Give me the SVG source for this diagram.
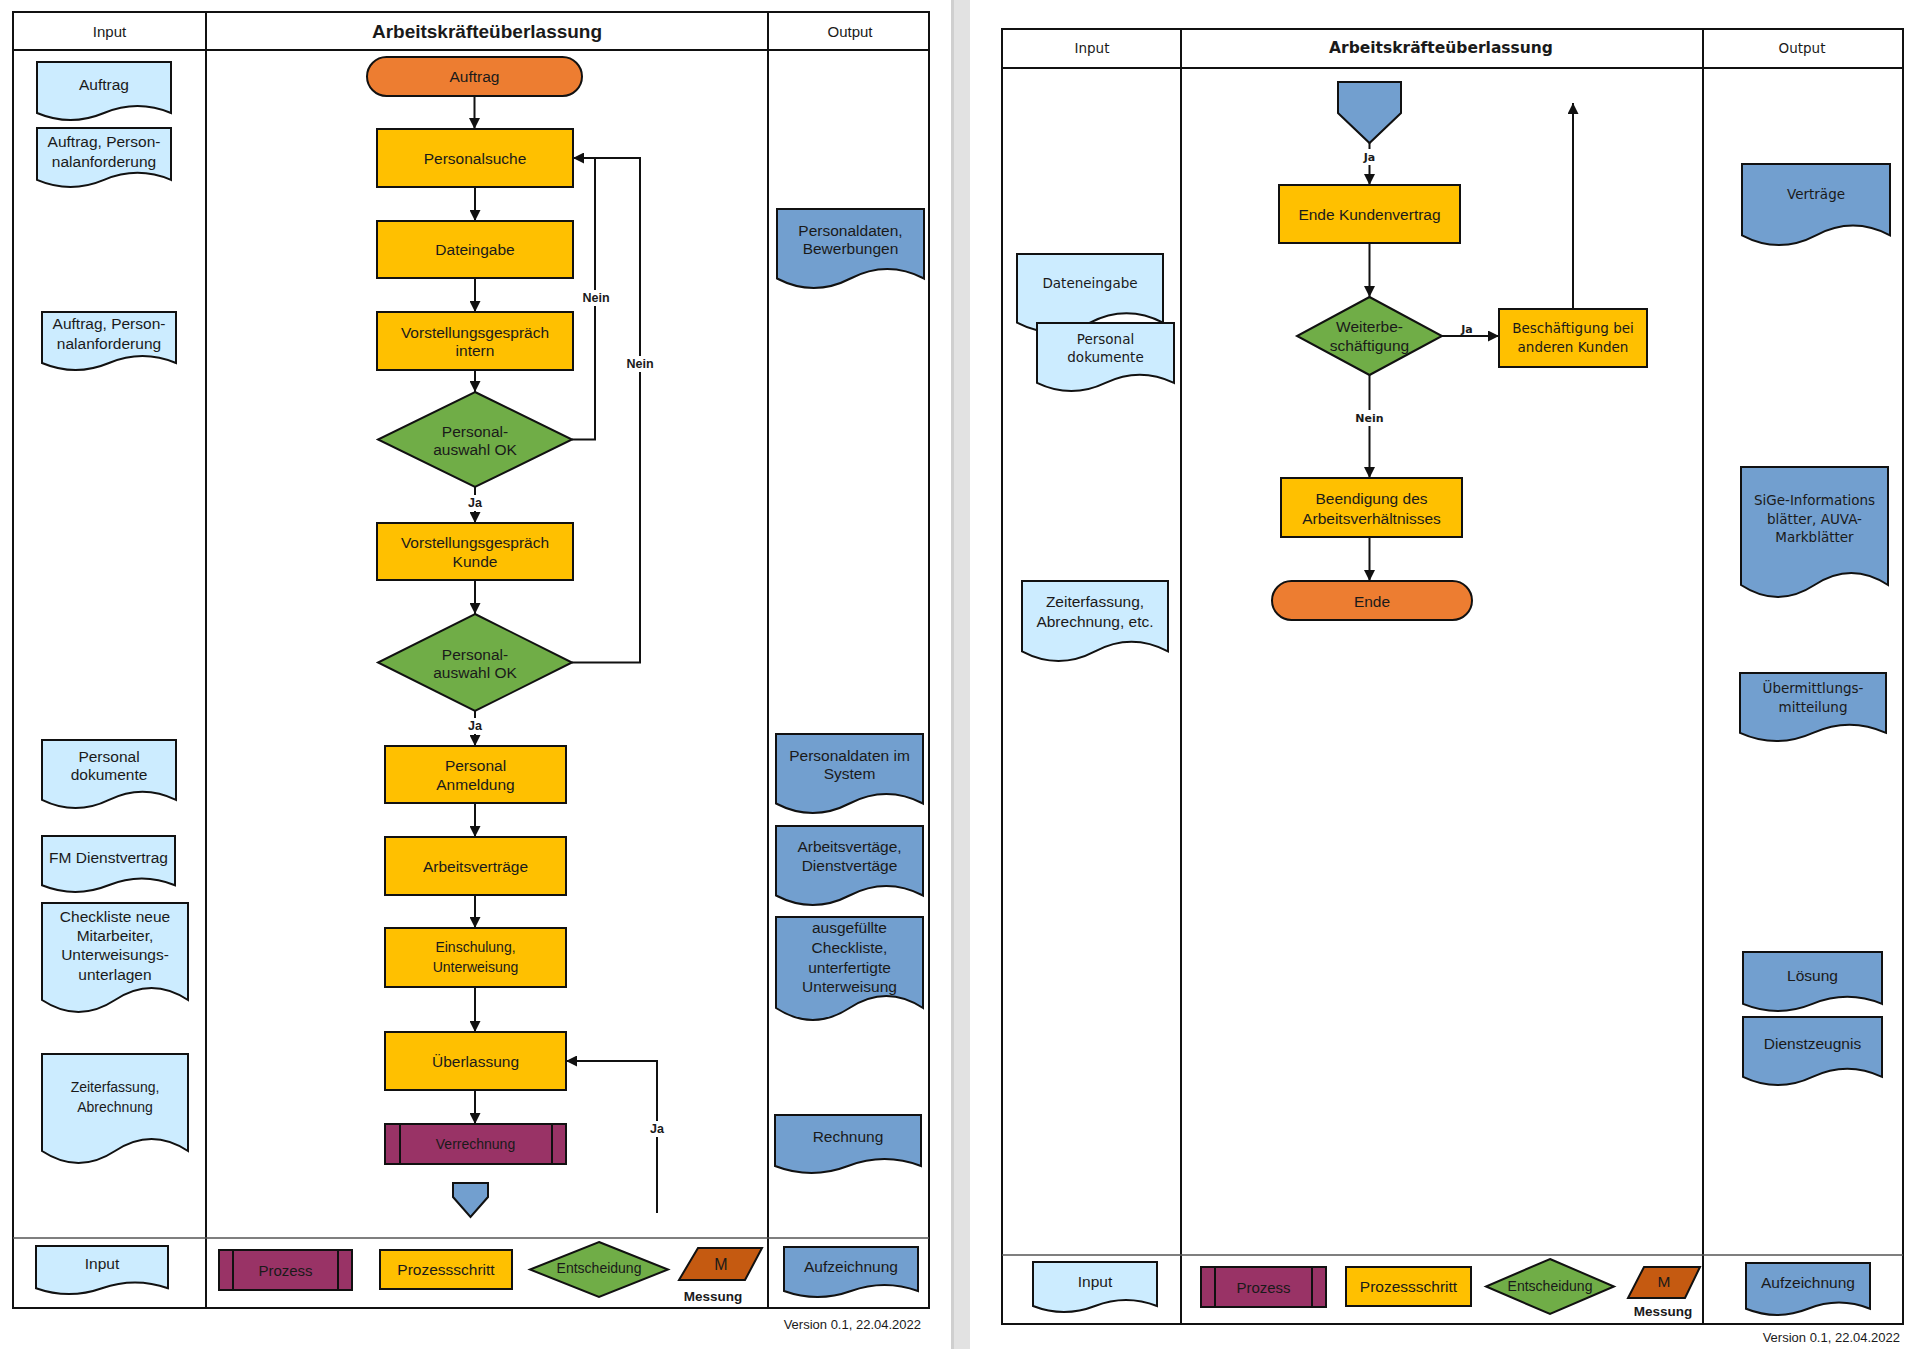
<svg xmlns="http://www.w3.org/2000/svg" width="1920" height="1349" viewBox="0 0 1920 1349">
<defs>
<marker id="ah" viewBox="0 0 11 11" refX="11" refY="5.5" markerWidth="11" markerHeight="11" markerUnits="userSpaceOnUse" orient="auto">
<path d="M0,0 L11,5.5 L0,11 Z" fill="#111"/>
</marker>
<style>
.box{stroke:#111;stroke-width:2}
.step{fill:#FFC000}
.term{fill:#ED7D31}
.dec{fill:#70AD47}
.proc{fill:#993366}
.meas{fill:#C55A11}
.din{fill:#CCECFF}
.dout{fill:#729FCF}
.frame{fill:none;stroke:#111;stroke-width:2}
.sep{stroke:#555;stroke-width:1.5}
.ln{fill:none;stroke:#111;stroke-width:2}
.arr{marker-end:url(#ah)}
.t{font-family:"Liberation Sans",Arial,sans-serif;font-size:15.5px;fill:#1a1a1a;text-anchor:middle;dominant-baseline:central}
.v{font-family:"DejaVu Sans",Verdana,sans-serif;font-size:13.5px;fill:#1a1a1a;text-anchor:middle;dominant-baseline:central}
.h{font-size:15px}
.ttl{font-weight:bold;font-size:19px}
.vttl{font-weight:bold;font-size:15.5px}
.lab{font-family:"Liberation Sans",Arial,sans-serif;font-weight:bold;font-size:12.5px;fill:#1a1a1a;text-anchor:middle;dominant-baseline:central}
.vlab{font-family:"DejaVu Sans",Verdana,sans-serif;font-weight:bold;font-size:11px;fill:#1a1a1a;text-anchor:middle;dominant-baseline:central}
.sm{font-size:14px}
.mb{font-weight:bold;font-size:13.5px}
.ver{font-family:"Liberation Sans",Arial,sans-serif;font-size:13px;fill:#1a1a1a;text-anchor:end;dominant-baseline:central}
.bg{fill:#fff}
</style>
</defs>
<rect x="0" y="0" width="1920" height="1349" fill="#fff"/>
<rect x="951" y="0" width="19" height="1349" fill="#e2e2e2"/>
<rect x="951" y="0" width="3" height="1349" fill="#cfcfcf"/>

<g id="frame-left">
<rect class="frame" x="13" y="12" width="916" height="1296"/>
<line class="frame" x1="13" y1="50" x2="929" y2="50"/>
<line class="frame" x1="206" y1="12" x2="206" y2="1308"/>
<line class="frame" x1="768" y1="12" x2="768" y2="1308"/>
<line class="sep" x1="13" y1="1238" x2="929" y2="1238"/>
<text class="t h" x="109.5" y="31">Input</text>
<text class="t ttl" x="487" y="31">Arbeitskräfteüberlassung</text>
<text class="t h" x="850" y="31">Output</text>
<text class="ver" x="921" y="1324">Version 0.1, 22.04.2022</text>
</g>

<g id="frame-right">
<rect class="frame" x="1002" y="29" width="901" height="1295"/>
<line class="frame" x1="1002" y1="68" x2="1903" y2="68"/>
<line class="frame" x1="1181" y1="29" x2="1181" y2="1324"/>
<line class="frame" x1="1703" y1="29" x2="1703" y2="1324"/>
<line class="sep" x1="1002" y1="1255" x2="1903" y2="1255"/>
<text class="v" x="1092" y="48">Input</text>
<text class="v vttl" x="1441" y="48">Arbeitskräfteüberlassung</text>
<text class="v" x="1802" y="48">Output</text>
<text class="ver" x="1900" y="1337">Version 0.1, 22.04.2022</text>
</g>

<g id="connectors">
<path class="ln arr" d="M474.5,96 V129"/>
<path class="ln arr" d="M475,187 V221"/>
<path class="ln arr" d="M475,278 V312"/>
<path class="ln arr" d="M475,370 V392"/>
<path class="ln arr" d="M475,487 V523"/>
<path class="ln arr" d="M475,580 V614"/>
<path class="ln arr" d="M475,711 V746"/>
<path class="ln arr" d="M475,803 V837"/>
<path class="ln arr" d="M475,895 V928"/>
<path class="ln arr" d="M475,987 V1032"/>
<path class="ln arr" d="M475,1090 V1124"/>
<path class="ln arr" d="M572,439.5 H595 V158 H573"/>
<path class="ln" d="M572,662.5 H640 V158 H595"/>
<path class="ln arr" d="M657,1213 V1061 H566"/>
<rect class="bg" x="581" y="290" width="30" height="16"/>
<text class="lab" x="596" y="298">Nein</text>
<rect class="bg" x="625" y="356" width="30" height="16"/>
<text class="lab" x="640" y="364">Nein</text>
<rect class="bg" x="467" y="495" width="16" height="16"/>
<text class="lab" x="475" y="503">Ja</text>
<rect class="bg" x="467" y="718" width="16" height="16"/>
<text class="lab" x="475" y="726">Ja</text>
<rect class="bg" x="649" y="1121" width="16" height="16"/>
<text class="lab" x="657" y="1129">Ja</text>

<path class="ln arr" d="M1369.5,143 V185"/>
<path class="ln arr" d="M1369.5,243 V297"/>
<path class="ln arr" d="M1369.5,375 V478"/>
<path class="ln arr" d="M1369.5,537 V581"/>
<path class="ln arr" d="M1442,336 H1499"/>
<path class="ln arr" d="M1573,309 V103"/>
<rect class="bg" x="1361" y="149" width="17" height="16"/>
<text class="vlab" x="1369.5" y="157">Ja</text>
<rect class="bg" x="1353" y="410" width="33" height="16"/>
<text class="vlab" x="1369.5" y="418">Nein</text>
<text class="vlab" x="1467" y="329">Ja</text>
</g>

<g id="in-auftrag"><path class="box din" d="M37,62 H171 V113 Q137.5,99.1 104,113 Q70.5,127 37,113 Z"/><text class="t" x="104" y="84">Auftrag</text></g>
<g id="in-personalanforderung-1"><path class="box din" d="M37,128 H171 V179.9 Q137.5,165.8 104,179.9 Q70.5,194.1 37,179.9 Z"/><text class="t" x="104" y="141">Auftrag, Person-</text><text class="t" x="104" y="161">nalanforderung</text></g>
<g id="in-personalanforderung-2"><path class="box din" d="M42,312 H176 V363 Q142.5,349.1 109,363 Q75.5,377 42,363 Z"/><text class="t" x="109" y="323">Auftrag, Person-</text><text class="t" x="109" y="343">nalanforderung</text></g>
<g id="in-personaldokumente"><path class="box din" d="M42,740 H176 V799.8 Q142.5,783.5 109,799.8 Q75.5,816.2 42,799.8 Z"/><text class="t" x="109" y="756">Personal</text><text class="t" x="109" y="774">dokumente</text></g>
<g id="in-fm-dienstvertrag"><path class="box din" d="M42,836 H175 V885.3 Q141.8,871.8 108.5,885.3 Q75.3,898.7 42,885.3 Z"/><text class="t" x="108.5" y="857">FM Dienstvertrag</text></g>
<g id="in-checkliste"><path class="box din" d="M42,903 H188 V1000 Q151.5,976 115,1000 Q78.5,1024 42,1000 Z"/><text class="t" x="115" y="916">Checkliste neue</text><text class="t" x="115" y="935">Mitarbeiter,</text><text class="t" x="115" y="954">Unterweisungs-</text><text class="t" x="115" y="974">unterlagen</text></g>
<g id="in-zeiterfassung"><path class="box din" d="M42,1054 H188 V1151 Q151.5,1127 115,1151 Q78.5,1175 42,1151 Z"/><text class="t sm" x="115" y="1087">Zeiterfassung,</text><text class="t sm" x="115" y="1107">Abrechnung</text></g>

<g id="out-bewerbungen"><path class="box dout" d="M777,209 H924 V278.5 Q887.3,259.6 850.5,278.5 Q813.8,297.5 777,278.5 Z"/><text class="t" x="850.5" y="230">Personaldaten,</text><text class="t" x="850.5" y="248">Bewerbungen</text></g>
<g id="out-personaldaten-system"><path class="box dout" d="M776,734 H923 V803.5 Q886.3,784.6 849.5,803.5 Q812.8,822.5 776,803.5 Z"/><text class="t" x="849.5" y="755">Personaldaten im</text><text class="t" x="849.5" y="773">System</text></g>
<g id="out-vertraege"><path class="box dout" d="M776,826 H923 V895.5 Q886.3,876.6 849.5,895.5 Q812.8,914.5 776,895.5 Z"/><text class="t" x="849.5" y="846">Arbeitsvertäge,</text><text class="t" x="849.5" y="865">Dienstvertäge</text></g>
<g id="out-checkliste"><path class="box dout" d="M776,917 H923 V1008 Q886.3,984 849.5,1008 Q812.8,1032 776,1008 Z"/><text class="t" x="849.5" y="927">ausgefüllte</text><text class="t" x="849.5" y="947">Checkliste,</text><text class="t" x="849.5" y="967">unterfertigte</text><text class="t" x="849.5" y="986">Unterweisung</text></g>
<g id="out-rechnung"><path class="box dout" d="M775,1115 H921 V1166 Q884.5,1152.1 848,1166 Q811.5,1180 775,1166 Z"/><text class="t" x="848" y="1136">Rechnung</text></g>

<g id="start-auftrag"><rect class="box term" x="367" y="57" width="215" height="39" rx="19.5"/><text class="t" x="474.5" y="76.5">Auftrag</text></g>
<g id="personalsuche"><rect class="box step" x="377" y="129" width="196" height="58"/><text class="t" x="475" y="158">Personalsuche</text></g>
<g id="dateingabe"><rect class="box step" x="377" y="221" width="196" height="57"/><text class="t" x="475" y="249.5">Dateingabe</text></g>
<g id="vorstellung-intern"><rect class="box step" x="377" y="312" width="196" height="58"/><text class="t" x="475" y="332">Vorstellungsgespräch</text><text class="t" x="475" y="350">intern</text></g>
<g id="auswahl-1"><polygon class="box dec" points="475,392 572,439.5 475,487 378,439.5"/><text class="t" x="475" y="431">Personal-</text><text class="t" x="475" y="449">auswahl OK</text></g>
<g id="vorstellung-kunde"><rect class="box step" x="377" y="523" width="196" height="57"/><text class="t" x="475" y="542">Vorstellungsgespräch</text><text class="t" x="475" y="561">Kunde</text></g>
<g id="auswahl-2"><polygon class="box dec" points="475,614 572,662.5 475,711 378,662.5"/><text class="t" x="475" y="654">Personal-</text><text class="t" x="475" y="672">auswahl OK</text></g>
<g id="personal-anmeldung"><rect class="box step" x="385" y="746" width="181" height="57"/><text class="t" x="475.5" y="765">Personal</text><text class="t" x="475.5" y="784">Anmeldung</text></g>
<g id="arbeitsvertraege"><rect class="box step" x="385" y="837" width="181" height="58"/><text class="t" x="475.5" y="866">Arbeitsverträge</text></g>
<g id="einschulung"><rect class="box step" x="385" y="928" width="181" height="59"/><text class="t sm" x="475.5" y="947">Einschulung,</text><text class="t sm" x="475.5" y="967">Unterweisung</text></g>
<g id="ueberlassung"><rect class="box step" x="385" y="1032" width="181" height="58"/><text class="t" x="475.5" y="1061">Überlassung</text></g>
<g id="verrechnung"><rect class="box proc" x="385" y="1124" width="181" height="40"/><line class="box" x1="400" y1="1124" x2="400" y2="1164"/><line class="box" x1="552" y1="1124" x2="552" y2="1164"/><text class="t sm" x="475.5" y="1144">Verrechnung</text></g>
<g id="offpage-1"><path class="box dout" d="M453,1183 H488 V1197 L470.5,1217 L453,1197 Z"/></g>

<g id="legend-left">
<path class="box din" d="M36,1246 H168 V1288.2 Q135,1276.7 102,1288.2 Q69,1299.8 36,1288.2 Z"/><text class="t" x="102" y="1263">Input</text>
<rect class="box proc" x="219" y="1250" width="133" height="40"/><line class="box" x1="233" y1="1250" x2="233" y2="1290"/><line class="box" x1="338" y1="1250" x2="338" y2="1290"/><text class="t h" x="285.5" y="1270">Prozess</text>
<rect class="box step" x="380" y="1250" width="132" height="39"/><text class="t" x="446" y="1269.5">Prozessschritt</text>
<polygon class="box dec" points="599,1242 668,1269.5 599,1297 530,1269.5"/><text class="t sm" x="599" y="1268">Entscheidung</text>
<polygon class="box meas" points="698,1248 762,1248 745,1280 679,1280"/><text class="t" x="721" y="1264" style="font-size:16px">M</text><text class="t mb" x="713" y="1296">Messung</text>
<path class="box dout" d="M784,1247 H918 V1291 Q884.5,1279 851,1291 Q817.5,1303 784,1291 Z"/><text class="t" x="851" y="1266">Aufzeichnung</text>
</g>

<g id="r-in-dateneingabe"><path class="box din" d="M1017,254 H1163 V322.6 Q1126.5,303.9 1090,322.6 Q1053.5,341.4 1017,322.6 Z"/><text class="v" x="1090" y="283">Dateneingabe</text></g>
<g id="r-in-personaldokumente"><path class="box din" d="M1037,323 H1174 V382.8 Q1139.8,366.5 1105.5,382.8 Q1071.3,399.2 1037,382.8 Z"/><text class="v" x="1105.5" y="339">Personal</text><text class="v" x="1105.5" y="357">dokumente</text></g>
<g id="r-in-zeiterfassung"><path class="box din" d="M1022,581 H1168 V651.4 Q1131.5,632.2 1095,651.4 Q1058.5,670.6 1022,651.4 Z"/><text class="t" x="1095" y="601">Zeiterfassung,</text><text class="t" x="1095" y="621">Abrechnung, etc.</text></g>

<g id="r-out-vertraege"><path class="box dout" d="M1742,164 H1890 V235.3 Q1853,215.8 1816,235.3 Q1779,254.7 1742,235.3 Z"/><text class="v" x="1816" y="194">Verträge</text></g>
<g id="r-out-sige"><path class="box dout" d="M1741,467 H1888 V585 Q1851.3,561 1814.5,585 Q1777.8,609 1741,585 Z"/><text class="v" x="1814.5" y="500">SiGe-Informations</text><text class="v" x="1814.5" y="519">blätter, AUVA-</text><text class="v" x="1814.5" y="537">Markblätter</text></g>
<g id="r-out-uebermittlung"><path class="box dout" d="M1740,673 H1886 V732.8 Q1849.5,716.5 1813,732.8 Q1776.5,749.2 1740,732.8 Z"/><text class="v" x="1813" y="688">Übermittlungs-</text><text class="v" x="1813" y="707">mitteilung</text></g>
<g id="r-out-loesung"><path class="box dout" d="M1743,952 H1882 V1003.9 Q1847.3,989.8 1812.5,1003.9 Q1777.8,1018.1 1743,1003.9 Z"/><text class="t" x="1812.5" y="975">Lösung</text></g>
<g id="r-out-dienstzeugnis"><path class="box dout" d="M1743,1017 H1882 V1076.8 Q1847.3,1060.5 1812.5,1076.8 Q1777.8,1093.2 1743,1076.8 Z"/><text class="t" x="1812.5" y="1043">Dienstzeugnis</text></g>

<g id="offpage-2"><path class="box dout" d="M1338,82 H1401 V113 L1369.5,143 L1338,113 Z"/></g>
<g id="ende-kundenvertrag"><rect class="box step" x="1279" y="185" width="181" height="58"/><text class="t" x="1369.5" y="214">Ende Kundenvertrag</text></g>
<g id="weiterbeschaeftigung"><polygon class="box dec" points="1369.5,297 1442,336 1369.5,375 1297,336"/><text class="t" x="1369.5" y="326">Weiterbe-</text><text class="t" x="1369.5" y="345">schäftigung</text></g>
<g id="beschaeftigung-andere"><rect class="box step" x="1499" y="309" width="148" height="58"/><text class="v" x="1573" y="328">Beschäftigung bei</text><text class="v" x="1573" y="347">anderen Kunden</text></g>
<g id="beendigung"><rect class="box step" x="1281" y="478" width="181" height="59"/><text class="t" x="1371.5" y="498">Beendigung des</text><text class="t" x="1371.5" y="518">Arbeitsverhältnisses</text></g>
<g id="ende"><rect class="box term" x="1272" y="581" width="200" height="39" rx="19.5"/><text class="t" x="1372" y="601">Ende</text></g>

<g id="legend-right">
<path class="box din" d="M1033,1262 H1157 V1306 Q1126,1294 1095,1306 Q1064,1318 1033,1306 Z"/><text class="t" x="1095" y="1281">Input</text>
<rect class="box proc" x="1201" y="1267" width="125" height="40"/><line class="box" x1="1215" y1="1267" x2="1215" y2="1307"/><line class="box" x1="1312" y1="1267" x2="1312" y2="1307"/><text class="t h" x="1263.5" y="1287">Prozess</text>
<rect class="box step" x="1346" y="1267" width="125" height="39"/><text class="t" x="1408.5" y="1286.5">Prozessschritt</text>
<polygon class="box dec" points="1550,1259 1614,1286.5 1550,1314 1486,1286.5"/><text class="t sm" x="1550" y="1286">Entscheidung</text>
<polygon class="box meas" points="1644,1267 1700,1267 1685,1298 1628,1298"/><text class="t" x="1664" y="1281">M</text><text class="t mb" x="1663" y="1311">Messung</text>
<path class="box dout" d="M1746,1263 H1870 V1308.8 Q1839,1296.3 1808,1308.8 Q1777,1321.2 1746,1308.8 Z"/><text class="t" x="1808" y="1282">Aufzeichnung</text>
</g>
</svg>
